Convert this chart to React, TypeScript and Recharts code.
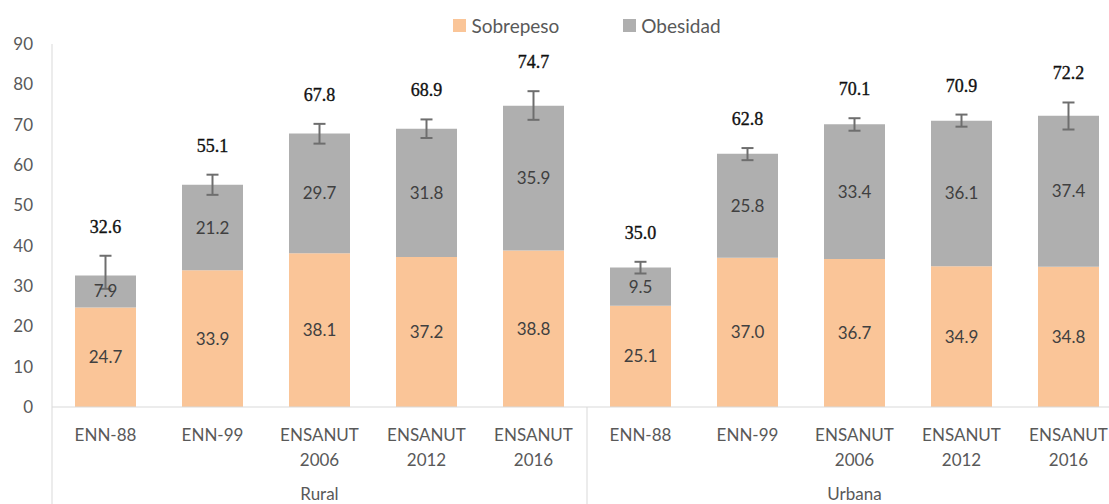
import React from 'react';
import { BarChart, Bar, XAxis, YAxis, ErrorBar, LabelList, Legend } from 'recharts';

const categories = ['ENN-88', 'ENN-99', 'ENSANUT 2006', 'ENSANUT 2012', 'ENSANUT 2016', 'ENN-88', 'ENN-99', 'ENSANUT 2006', 'ENSANUT 2012', 'ENSANUT 2016'];
const areas = ['Rural', 'Rural', 'Rural', 'Rural', 'Rural', 'Urbana', 'Urbana', 'Urbana', 'Urbana', 'Urbana'];
const seriesNames = ['Sobrepeso', 'Obesidad'];
const sobrepeso = [24.7, 33.9, 38.1, 37.2, 38.8, 25.1, 37.0, 36.7, 34.9, 34.8];
const obesidad = [7.9, 21.2, 29.7, 31.8, 35.9, 9.5, 25.8, 33.4, 36.1, 37.4];
const totals = [32.6, 55.1, 67.8, 68.9, 74.7, 35.0, 62.8, 70.1, 70.9, 72.2];
const errLow = [3.3, 2.5, 2.5, 2.3, 3.5, 1.5, 1.6, 1.6, 1.5, 3.4];
const errHigh = [4.9, 2.5, 2.4, 2.3, 3.6, 1.4, 1.4, 1.5, 1.5, 3.3];
const yTicks = [0, 10, 20, 30, 40, 50, 60, 70, 80, 90];

const data = categories.map((name, i) => ({
  key: `${areas[i]}-${name}`,
  name,
  area: areas[i],
  sobrepeso: sobrepeso[i],
  obesidad: obesidad[i],
  total: totals[i],
  err: [errLow[i], errHigh[i]],
}));

const CHART_W = 1122;
const CHART_H = 504;
const Y_AXIS_W = 52;
const X_AXIS_H = 97;
const BAND = (CHART_W - Y_AXIS_W) / categories.length;

const FONT = 'Lato, "Open Sans", sans-serif';
const ORANGE = '#FAC598';
const GRAY = '#AFAFAF';
const AXIS_COLOR = '#D9D9D9';
const TEXT_COLOR = '#595959';

const XTick = (props: any) => {
  const { x, y, payload, index } = props;
  const idx = typeof index === 'number' ? index : payload.index;
  const label: string = payload.value;
  const parts = label.split(' ');
  const area = areas[idx];
  const isGroupStart = idx === 0 || areas[idx - 1] !== area;
  const groupIdx = areas.map((a, i) => (a === area ? i : -1)).filter((i) => i >= 0);
  const groupMid = (groupIdx[0] + groupIdx[groupIdx.length - 1]) / 2;
  return (
    <g>
      {parts.map((p, k) => (
        <text key={k} x={x} y={y + 27 + k * 25} textAnchor="middle" dominantBaseline="central" fill={TEXT_COLOR} fontSize={17} fontFamily={FONT}>
          {p}
        </text>
      ))}
      {isGroupStart && <line x1={x - BAND / 2} x2={x - BAND / 2} y1={y} y2={y + X_AXIS_H} stroke={AXIS_COLOR} strokeWidth={1} />}
      {idx === groupMid && (
        <text x={x} y={y + 86} textAnchor="middle" dominantBaseline="central" fill={TEXT_COLOR} fontSize={17} fontFamily={FONT}>
          {area}
        </text>
      )}
    </g>
  );
};

const TotalLabel = (props: any) => {
  const { x, y, width, height, index } = props;
  const pxPerUnit = height / obesidad[index];
  const errTop = y - errHigh[index] * pxPerUnit;
  return (
    <text x={x + width / 2} y={errTop - 29} textAnchor="middle" dominantBaseline="central" fill="#111" stroke="#111" strokeWidth={0.35} fontSize={18} fontFamily='"Liberation Serif", "DejaVu Serif", serif'>
      {totals[index].toFixed(1)}
    </text>
  );
};

const LegendContent = (props: any) => {
  const { payload } = props;
  const items = [...(payload || [])].sort((a: any, b: any) => seriesNames.indexOf(a.value) - seriesNames.indexOf(b.value));
  return (
    <div style={{ display: 'flex', justifyContent: 'center', alignItems: 'center', gap: 64, height: 26, fontFamily: FONT, fontSize: 19, color: TEXT_COLOR }}>
      {items.map((entry: any) => (
        <span key={entry.value} style={{ display: 'flex', alignItems: 'center' }}>
          <span style={{ display: 'inline-block', width: 13, height: 13, background: entry.color, marginRight: 5 }} />
          {entry.value}
        </span>
      ))}
    </div>
  );
};

const fmt = (v: any) => Number(v).toFixed(1);

export default function App() {
  return (
    <div style={{ position: 'absolute', left: 0, top: 0, width: 1109, height: 504, overflow: 'hidden', background: '#fff' }}>
      <BarChart width={CHART_W} height={CHART_H} data={data} margin={{ top: 44, right: 0, bottom: 0, left: 0 }} barSize={61}>
        <XAxis dataKey="name" interval={0} tickLine={false} tickSize={0} tickMargin={0} height={X_AXIS_H} axisLine={{ stroke: AXIS_COLOR }} tick={<XTick />} />
        <YAxis domain={[0, 90]} ticks={yTicks} width={Y_AXIS_W} tickLine={false} tickSize={0} tickMargin={19} axisLine={{ stroke: AXIS_COLOR }} tick={{ fill: TEXT_COLOR, fontSize: 17, fontFamily: FONT }} />
        <Legend verticalAlign="middle" align="center" wrapperStyle={{ top: 12, left: Y_AXIS_W, width: CHART_W - Y_AXIS_W }} content={<LegendContent />} />
        <Bar dataKey="sobrepeso" name={seriesNames[0]} stackId="a" fill={ORANGE} isAnimationActive={false}>
          <LabelList dataKey="sobrepeso" position="center" formatter={fmt} fill="#404040" fontSize={17} fontFamily={FONT} />
        </Bar>
        <Bar dataKey="obesidad" name={seriesNames[1]} stackId="a" fill={GRAY} isAnimationActive={false}>
          <LabelList dataKey="obesidad" position="center" formatter={fmt} fill="#404040" fontSize={17} fontFamily={FONT} />
          <LabelList dataKey="total" content={<TotalLabel />} />
          <ErrorBar dataKey="err" direction="y" width={6} stroke="#6E6E6E" strokeWidth={2} isAnimationActive={false} />
        </Bar>
      </BarChart>
    </div>
  );
}
